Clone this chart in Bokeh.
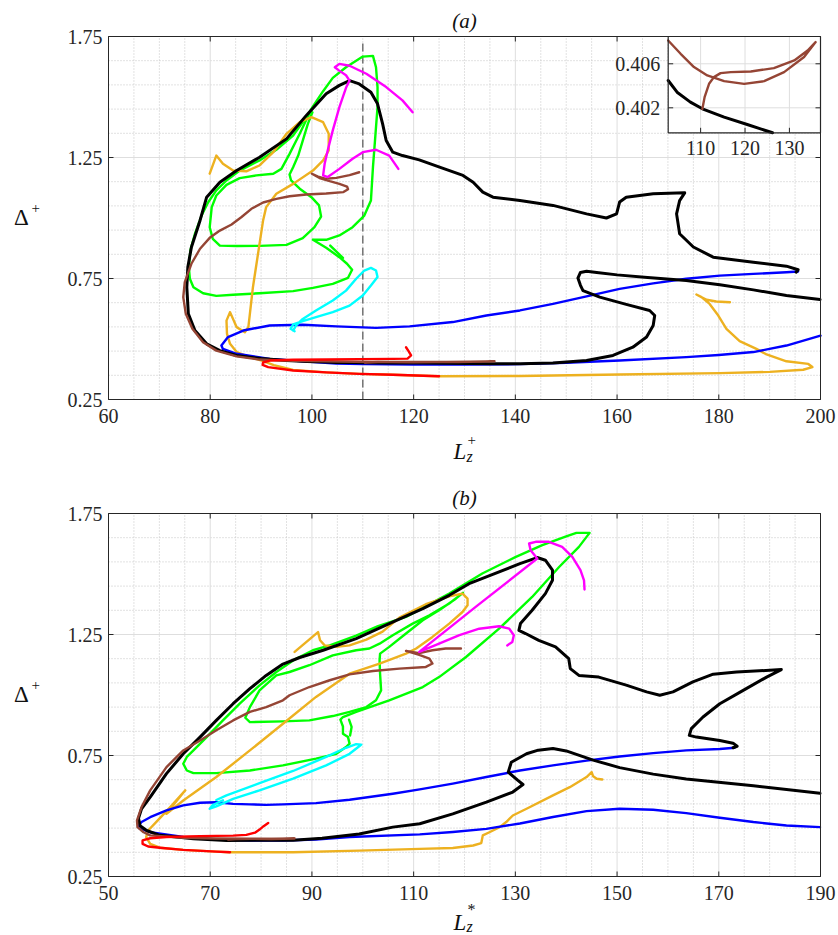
from math import pi
from bokeh.plotting import figure
from bokeh.models import Range1d, Label
from bokeh.layouts import column
from bokeh.embed import file_html
from bokeh.resources import INLINE
from bokeh.core.properties import value

SERIF = "Liberation Serif"
AX = "#262626"
MAJOR = "#dedede"
MINOR = "#c4c4c4"

# ---------------- ticks ----------------
xticks_a = [60, 80, 100, 120, 140, 160, 180, 200]
xminor_a = [65, 70, 75, 85, 90, 95, 105, 110, 115, 125, 130, 135, 145, 150, 155, 165, 170, 175, 185, 190, 195]
xticks_b = [50, 70, 90, 110, 130, 150, 170, 190]
xminor_b = [55, 60, 65, 75, 80, 85, 95, 100, 105, 115, 120, 125, 135, 140, 145, 155, 160, 165, 175, 180, 185]
yticks = [0.25, 0.75, 1.25, 1.75]
ylabels = ["0.25", "0.75", "1.25", "1.75"]
yminor = [0.35, 0.45, 0.55, 0.65, 0.85, 0.95, 1.05, 1.15, 1.35, 1.45, 1.55, 1.65]
xtop_a = [60, 80, 100, 120, 140, 160]
yright_a = [0.25, 0.75, 1.25]

# ---------------- panel (a) data: (L_z^+, Delta^+) ----------------
black_a = [(199.9,0.663),(193.3,0.680),(186.8,0.703),(180.2,0.724),(173.6,0.742),(166.0,0.754),(160.0,0.765),(156.0,0.775),(154.0,0.780),(152.8,0.775),(152.3,0.752),(152.8,0.722),(153.3,0.700),(156.6,0.673),(161.8,0.643),(166.4,0.618),(167.4,0.597),(167.1,0.556),(165.8,0.508),(163.1,0.466),(159.2,0.432),(154.0,0.411),(147.4,0.401),(141.0,0.398),(135.0,0.3975),(126.2,0.3997),(120.5,0.4005),(115.3,0.4012),(110.4,0.4019),(107.7,0.4025),(104.7,0.4034),(102.7,0.4045),(99.0,0.407),(95.0,0.411),(90.0,0.419),(85.2,0.432),(81.9,0.452),(79.3,0.480),(77.0,0.535),(75.7,0.604),(75.4,0.714),(75.6,0.797),(76.3,0.879),(78.0,0.990),(79.3,1.086),(81.9,1.148),(85.2,1.196),(89.7,1.251),(95.0,1.327),(98.9,1.424),(102.8,1.513),(105.4,1.548),(107.4,1.568),(109.3,1.554),(111.6,1.520),(112.9,1.472),(113.9,1.389),(114.6,1.320),(115.9,1.272),(117.8,1.258),(121.1,1.240),(125.1,1.210),(129.7,1.176),(131.7,1.148),(133.6,1.107),(135.6,1.086),(140.9,1.072),(147.4,1.052),(154.0,1.017),(157.9,1.000),(159.9,1.017),(160.5,1.066),(161.8,1.086),(167.1,1.100),(173.3,1.104),(172.3,1.072),(171.7,1.017),(172.3,0.935),(175.0,0.880),(178.9,0.838),(186.8,0.817),(193.3,0.801),(195.6,0.786),(195.2,0.776)]
blue_a = [(200.0,0.514),(193.3,0.473),(186.8,0.446),(180.0,0.434),(173.6,0.425),(160.5,0.411),(150.0,0.402),(140.9,0.396),(130.0,0.394),(120.0,0.394),(110.0,0.396),(104.8,0.399),(98.2,0.408),(91.7,0.418),(85.2,0.439),(82.5,0.459),(82.2,0.473),(83.5,0.508),(86.5,0.535),(91.7,0.556),(98.2,0.559),(104.8,0.552),(112.6,0.546),(119.2,0.552),(127.7,0.570),(134.3,0.597),(140.9,0.618),(147.4,0.645),(154.0,0.676),(160.5,0.707),(167.1,0.730),(173.6,0.749),(180.2,0.762),(186.8,0.769),(193.3,0.776),(195.6,0.779)]
red_a = [(118.5,0.466),(119.0,0.450),(119.5,0.432),(118.8,0.419),(115.9,0.418),(109.3,0.417),(102.8,0.415),(96.3,0.414),(91.7,0.411),(90.4,0.403),(90.3,0.393),(91.4,0.384),(96.3,0.370),(102.8,0.362),(109.3,0.356),(115.9,0.352),(125.0,0.346)]
orange_a = [(79.9,1.183),(81.2,1.258),(82.5,1.224),(84.5,1.196),(87.1,1.193),(89.7,1.217),(92.4,1.272),(95.0,1.348),(97.6,1.396),(99.9,1.417),(102.2,1.396),(103.3,1.348),(103.3,1.279),(102.2,1.238),(100.2,1.196),(96.3,1.141),(93.0,1.100),(91.0,1.045),(90.4,0.990),(89.4,0.852),(88.4,0.714),(87.8,0.604),(87.5,0.549),(86.8,0.528),(85.2,0.549),(83.9,0.611),(83.2,0.576),(83.3,0.521),(83.9,0.480),(85.2,0.446),(87.8,0.425),(90.4,0.409),(92.5,0.392),(96.3,0.372),(102.8,0.362),(109.3,0.356),(115.9,0.352),(125.0,0.346),(140.9,0.347),(160.5,0.353),(180.2,0.359),(190.0,0.364),(196.6,0.373),(198.4,0.384),(197.6,0.397),(193.3,0.408),(189.4,0.436),(187.4,0.459),(184.1,0.491),(181.5,0.542),(179.9,0.597),(178.2,0.645),(176.6,0.673),(175.6,0.684),(177.6,0.662),(179.5,0.655),(182.2,0.652)]
green_a_outer = [(100.2,0.910),(102.8,0.877),(105.4,0.838),(106.9,0.811),(107.9,0.786),(107.1,0.753),(104.1,0.728),(100.2,0.711),(96.3,0.698),(89.7,0.689),(84.5,0.683),(81.2,0.678),(78.6,0.689),(76.7,0.714),(76.0,0.749),(75.8,0.797),(76.1,0.866),(77.0,0.935),(78.3,1.010),(79.6,1.065),(81.2,1.114),(83.2,1.155),(85.8,1.196),(89.7,1.238),(93.0,1.282),(96.3,1.341),(98.9,1.417),(100.2,1.461),(102.2,1.524),(104.1,1.579),(106.7,1.623),(110.0,1.667),(112.0,1.670),(112.6,1.623),(112.9,1.541),(112.9,1.458),(112.5,1.348),(112.0,1.210),(111.6,1.072),(110.3,1.010),(108.0,0.962),(105.4,0.928),(102.8,0.910),(100.2,0.910)]
green_a_inner = [(99.5,1.433),(97.6,1.348),(95.6,1.265),(94.0,1.203),(92.4,1.183),(89.1,1.176),(85.8,1.165),(83.2,1.137),(81.2,1.093),(80.3,1.045),(79.9,0.962),(80.5,0.914),(81.9,0.886),(85.2,0.884),(89.7,0.885),(95.0,0.889),(98.2,0.917),(100.5,0.962),(101.8,1.006),(101.4,1.052),(99.9,1.086),(97.6,1.121),(95.9,1.155),(95.6,1.180),(96.3,1.210),(97.3,1.258),(98.2,1.320),(99.2,1.389),(100.1,1.437)]
green_a_spur = [(103.6,0.886),(106.1,0.835)]
magenta_a = [(117.0,1.203),(115.2,1.258),(112.6,1.282),(110.0,1.272),(108.0,1.245),(105.4,1.203),(103.1,1.169),(102.2,1.176),(102.5,1.224),(103.1,1.279),(104.1,1.362),(105.4,1.458),(106.7,1.538),(107.4,1.568),(106.7,1.590),(105.3,1.610),(104.5,1.623),(105.4,1.637),(107.4,1.629),(110.7,1.596),(114.6,1.541),(117.8,1.486),(119.8,1.437)]
cyan_a = [(96.6,0.532),(95.8,0.542),(96.3,0.560),(98.2,0.574),(100.8,0.590),(104.1,0.611),(107.4,0.638),(110.0,0.680),(111.6,0.721),(112.9,0.756),(112.6,0.783),(111.6,0.794),(110.3,0.783),(108.7,0.749),(106.7,0.700),(104.1,0.659),(100.8,0.618),(98.2,0.583),(96.9,0.556),(96.3,0.535)]
brown_a = [(109.3,1.189),(107.4,1.177),(104.8,1.166),(102.8,1.162),(101.2,1.171),(100.0,1.183),(101.5,1.165),(103.5,1.152),(105.4,1.141),(106.9,1.130),(107.1,1.119),(106.2,1.107),(102.8,1.101),(98.9,1.097),(95.6,1.090),(93.0,1.079),(90.4,1.064),(88.1,1.038),(86.1,1.003),(84.2,0.973),(81.9,0.948),(79.9,0.918),(78.0,0.873),(76.3,0.811),(75.0,0.735),(74.7,0.673),(75.2,0.604),(76.5,0.542),(78.6,0.487),(81.2,0.452),(85.2,0.428),(89.7,0.415),(96.3,0.4095),(102.7,0.40812),(105.5,0.40691),(108.5,0.40570),(111.5,0.40494),(115.3,0.40442),(119.8,0.40418),(124.3,0.40442),(128.8,0.40524),(133.3,0.40661),(135.9,0.40797),(134.1,0.40721),(131.1,0.40630),(126.5,0.40561),(121.3,0.40530),(116.8,0.40524),(114.5,0.40515),(113.0,0.40479),(111.9,0.40418),(110.9,0.40297),(110.4,0.40191)]
dash_x = 110
dash_y = [0.25, 1.722]

# inset of panel (a)
inset_xlim = (102.7, 137.0)
inset_ylim = (0.39973, 0.40848)
inset_xticks = [110, 120, 130]
inset_yticks = [0.402, 0.406]
inset_ylabels = ["0.402", "0.406"]
black_inset = [(102.7,0.40448),(104.7,0.40342),(107.7,0.40252),(110.4,0.40191),(115.3,0.40115),(120.5,0.40048),(126.2,0.39973)]
brown_inset = [(102.7,0.40812),(105.5,0.40691),(108.5,0.40570),(111.5,0.40494),(115.3,0.40442),(119.8,0.40418),(124.3,0.40442),(128.8,0.40524),(133.3,0.40661),(135.9,0.40797),(134.1,0.40721),(131.1,0.40630),(126.5,0.40561),(121.3,0.40530),(116.8,0.40524),(114.5,0.40515),(113.0,0.40479),(111.9,0.40418),(110.9,0.40297),(110.4,0.40191)]

# ---------------- panel (b) data: (L_z^*, Delta^+) ----------------
black_b = [(189.9,0.594),(176.8,0.625),(163.6,0.653),(157.1,0.673),(150.5,0.700),(145.3,0.731),(140.0,0.769),(137.4,0.779),(134.5,0.772),(132.2,0.757),(129.2,0.722),(128.6,0.681),(130.5,0.647),(131.5,0.630),(129.5,0.599),(124.3,0.557),(117.7,0.509),(111.2,0.468),(105.9,0.454),(99.3,0.426),(92.0,0.408),(86.3,0.400),(73.2,0.399),(66.7,0.406),(60.1,0.420),(57.5,0.440),(56.2,0.460),(55.9,0.490),(56.5,0.530),(58.2,0.578),(61.4,0.675),(64.7,0.757),(68.0,0.826),(71.2,0.895),(74.5,0.964),(77.8,1.026),(81.0,1.081),(84.3,1.128),(87.6,1.155),(92.2,1.185),(98.7,1.233),(105.2,1.295),(111.8,1.357),(117.0,1.412),(120.9,1.460),(124.3,1.488),(130.9,1.543),(134.3,1.568),(135.9,1.557),(137.3,1.516),(137.3,1.474),(135.9,1.419),(133.3,1.350),(131.0,1.295),(130.7,1.267),(132.0,1.254),(134.6,1.226),(137.9,1.199),(140.5,1.150),(140.8,1.109),(142.5,1.081),(146.4,1.074),(151.8,1.041),(155.8,1.013),(158.4,0.999),(161.0,1.013),(164.9,1.054),(168.9,1.086),(173.5,1.095),(182.3,1.105),(179.4,1.074),(174.8,1.019),(170.2,0.964),(166.9,0.909),(164.6,0.861),(164.2,0.833),(165.6,0.826),(170.2,0.812),(172.8,0.801),(173.6,0.788),(172.8,0.782)]
blue_b = [(189.9,0.454),(183.3,0.461),(176.8,0.475),(170.2,0.493),(163.6,0.512),(157.1,0.526),(150.5,0.530),(144.0,0.520),(137.4,0.496),(130.9,0.469),(124.3,0.447),(117.7,0.434),(111.2,0.424),(97.4,0.413),(90.8,0.403),(84.3,0.399),(77.8,0.399),(71.2,0.403),(64.7,0.413),(58.2,0.433),(56.0,0.450),(55.9,0.461),(56.5,0.475),(58.2,0.495),(61.4,0.523),(64.7,0.544),(68.0,0.555),(71.2,0.557),(74.5,0.550),(77.8,0.548),(81.0,0.546),(84.3,0.548),(90.8,0.553),(97.4,0.567),(105.9,0.592),(111.2,0.610),(117.7,0.634),(124.3,0.661),(130.9,0.688),(137.4,0.709),(144.0,0.729),(150.5,0.746),(157.1,0.760),(163.6,0.771),(170.2,0.777),(173.1,0.782)]
red_b = [(81.4,0.471),(80.5,0.458),(79.7,0.444),(78.8,0.431),(77.1,0.422),(74.5,0.419),(68.0,0.417),(61.4,0.413),(58.2,0.408),(56.7,0.399),(56.7,0.385),(57.8,0.374),(60.1,0.369),(64.7,0.360),(71.2,0.353),(73.9,0.350)]
orange_b = [(86.6,1.178),(91.2,1.260),(91.6,1.226),(92.5,1.205),(94.8,1.199),(97.4,1.205),(100.7,1.229),(103.9,1.262),(107.2,1.320),(112.4,1.375),(117.0,1.408),(119.6,1.419),(120.6,1.398),(120.6,1.371),(119.6,1.343),(117.0,1.295),(113.7,1.240),(110.5,1.192),(108.5,1.171),(103.3,1.130),(97.4,1.088),(90.8,0.992),(84.3,0.881),(77.8,0.771),(71.2,0.661),(64.7,0.564),(61.4,0.509),(63.5,0.565),(65.1,0.606),(62.5,0.545),(59.5,0.478),(57.8,0.440),(57.4,0.413),(58.2,0.385),(60.1,0.369),(64.7,0.360),(71.2,0.353),(73.9,0.350),(86.3,0.350),(99.3,0.357),(111.2,0.364),(117.7,0.368),(121.7,0.378),(123.3,0.388),(123.6,0.420),(124.9,0.433),(126.9,0.454),(128.2,0.475),(129.5,0.502),(132.2,0.530),(137.4,0.585),(140.7,0.619),(144.0,0.661),(145.0,0.681),(145.3,0.664),(146.0,0.654),(147.1,0.651)]
green_b_outer = [(97.4,0.799),(96.7,0.785),(94.8,0.757),(90.8,0.737),(84.3,0.709),(77.8,0.688),(71.2,0.677),(66.7,0.677),(65.4,0.688),(64.7,0.716),(65.4,0.744),(66.7,0.771),(69.3,0.826),(72.5,0.895),(75.8,0.964),(79.7,1.040),(83.0,1.095),(86.3,1.143),(90.2,1.185),(93.5,1.205),(98.7,1.245),(103.0,1.285),(108.5,1.323),(117.0,1.419),(123.5,1.502),(130.1,1.571),(135.3,1.619),(140.0,1.655),(142.0,1.670),(144.6,1.670),(142.5,1.612),(138.6,1.529),(133.3,1.405),(126.8,1.274),(120.3,1.157),(115.0,1.074),(111.8,1.033),(105.2,0.978),(98.7,0.930),(96.1,0.909),(95.6,0.898),(96.1,0.870),(96.1,0.840),(97.1,0.826),(97.4,0.799)]
green_b_inner = [(119.7,1.422),(117.0,1.378),(113.1,1.329),(109.8,1.295),(105.9,1.247),(103.3,1.212),(101.3,1.192),(98.7,1.185),(94.1,1.164),(89.5,1.123),(85.6,1.095),(83.0,1.081),(79.7,1.019),(77.8,0.950),(76.9,0.906),(77.8,0.888),(84.3,0.891),(89.5,0.895),(94.1,0.913),(97.4,0.930),(100.7,0.950),(102.6,0.978),(103.6,1.019),(103.4,1.088),(103.3,1.143),(103.4,1.171),(105.2,1.199),(108.5,1.254),(111.8,1.309),(115.0,1.350),(118.3,1.398),(119.7,1.422)]
green_b_spur = [(97.3,0.898),(97.8,0.868),(97.5,0.833)]
magenta_b = [(128.4,1.205),(129.4,1.219),(129.7,1.247),(128.8,1.274),(126.8,1.284),(122.9,1.274),(119.0,1.247),(115.0,1.212),(111.1,1.178),(122.2,1.364),(134.3,1.564),(133.0,1.598),(132.7,1.626),(134.0,1.633),(136.6,1.633),(139.2,1.612),(141.2,1.571),(142.8,1.516),(143.5,1.474),(143.6,1.436)]
cyan_b = [(72.5,0.565),(70.5,0.545),(69.9,0.530),(71.2,0.540),(74.5,0.571),(79.7,0.606),(86.3,0.654),(92.8,0.709),(97.4,0.757),(99.3,0.788),(99.7,0.795),(98.7,0.797),(96.7,0.782),(92.8,0.744),(86.3,0.686),(79.7,0.636),(73.2,0.585),(71.2,0.566)]
brown_b = [(119.3,1.192),(116.3,1.192),(113.7,1.185),(111.1,1.173),(108.5,1.182),(111.1,1.166),(113.1,1.150),(113.7,1.130),(112.4,1.116),(107.2,1.109),(102.0,1.099),(97.4,1.085),(93.5,1.061),(89.5,1.033),(85.6,0.999),(84.3,0.978),(81.0,0.950),(77.8,0.930),(74.5,0.895),(71.2,0.854),(68.0,0.812),(64.7,0.771),(61.4,0.702),(58.2,0.606),(56.5,0.537),(55.6,0.482),(55.7,0.454),(56.9,0.433),(58.2,0.420),(64.7,0.410),(71.2,0.407),(77.8,0.406),(82.0,0.405),(86.6,0.407),(83.0,0.4065),(78.0,0.4055),(75.0,0.405),(73.5,0.403)]

# ---------------- colours ----------------
C_BLACK = "#000000"
C_BLUE = "#0000ff"
C_RED = "#ff0000"
C_GREEN = "#00ff00"
C_MAGENTA = "#ff00ff"
C_CYAN = "#00ffff"
C_ORANGE = "#edb120"
C_BROWN = "#954535"

# ---------------- layout (canvas pixels, origin bottom-left) ----------------
CANVAS_W = 838
H_A, H_B = 468, 467
BOX_X = (108, 820)
BOX_Y_A = (69, 432)
BOX_Y_B = (59, 422)
INSET_X = (667.7, 820)
INSET_Y = (335.7, 432)


def xs(pts):
    return [a for a, _ in pts]


def ys(pts):
    return [b for _, b in pts]


def draw(api, pts, color, width=2.4):
    api.line(xs(pts), ys(pts), line_color=color, line_width=width,
             line_join="round", line_cap="round")


def canvas(h):
    return figure(frame_width=CANVAS_W, frame_height=h,
                  x_range=Range1d(0, CANVAS_W), y_range=Range1d(0, h),
                  x_axis_type=None, y_axis_type=None,
                  output_backend="svg", toolbar_location=None,
                  min_border=0, outline_line_color=None,
                  background_fill_color="white", border_fill_color="white")


def axes_box(p, xlo, xhi, box_y, xt, xm):
    sub = p.subplot(x_source=Range1d(xlo, xhi), y_source=Range1d(0.25, 1.75),
                    x_target=Range1d(*BOX_X), y_target=Range1d(*box_y))
    sub.segment(x0=xm, y0=[0.25] * len(xm), x1=xm, y1=[1.75] * len(xm),
                line_color=MINOR, line_dash="1 2", line_width=1)
    sub.segment(x0=[xlo] * len(yminor), y0=yminor, x1=[xhi] * len(yminor), y1=yminor,
                line_color=MINOR, line_dash="1 2", line_width=1)
    sub.segment(x0=xt, y0=[0.25] * len(xt), x1=xt, y1=[1.75] * len(xt),
                line_color=MAJOR, line_width=1)
    sub.segment(x0=[xlo] * len(yticks), y0=yticks, x1=[xhi] * len(yticks), y1=yticks,
                line_color=MAJOR, line_width=1)
    return sub


def axes_frame(sub, xlo, xhi, xt, xt_top, yt_right):
    sub.quad(left=[xlo], right=[xhi], bottom=[0.25], top=[1.75],
             fill_color=None, line_color=AX, line_width=1)
    sub.ray(x=xt, y=[0.25] * len(xt), length=5, length_units="screen", angle=pi / 2, line_color=AX)
    sub.ray(x=xt_top, y=[1.75] * len(xt_top), length=5, length_units="screen", angle=-pi / 2, line_color=AX)
    sub.ray(x=[xlo] * len(yticks), y=yticks, length=5, length_units="screen", angle=0, line_color=AX)
    sub.ray(x=[xhi] * len(yt_right), y=yt_right, length=5, length_units="screen", angle=pi, line_color=AX)
    sub.text(x=xt, y=[0.25] * len(xt), text=[str(t) for t in xt], y_offset=9,
             text_align="center", text_baseline="top", text_font=value(SERIF),
             text_font_size="20px", text_color=AX)
    sub.text(x=[xlo] * len(yticks), y=yticks, text=ylabels, x_offset=-6,
             text_align="right", text_baseline="middle", text_font=value(SERIF),
             text_font_size="20px", text_color=AX)


def curves(api, black, blue, red, orange, greens, magenta, cyan, brown):
    for g in greens:
        draw(api, g, C_GREEN)
    draw(api, orange, C_ORANGE)
    draw(api, blue, C_BLUE)
    draw(api, black, C_BLACK, 3.0)
    draw(api, cyan, C_CYAN)
    draw(api, brown, C_BROWN)
    draw(api, red, C_RED)
    draw(api, magenta, C_MAGENTA)


def lab(p, x, y, text, size="22px", style="normal", align="left", baseline="alphabetic"):
    p.add_layout(Label(x=x, y=y, text=text, text_font=SERIF, text_font_size=size,
                       text_font_style=style, text_align=align, text_baseline=baseline,
                       text_color="#111111"))


# ---------------- panel (a) ----------------
pa = canvas(H_A)
sa = axes_box(pa, 60, 200, BOX_Y_A, xticks_a, xminor_a)
sa.line([dash_x, dash_x], dash_y, line_color="#737373", line_width=1.5, line_dash="8 4")
curves(sa, black_a, blue_a, red_a, orange_a, [green_a_outer, green_a_inner, green_a_spur],
       magenta_a, cyan_a, brown_a)

ins = pa.subplot(x_source=Range1d(*inset_xlim), y_source=Range1d(*inset_ylim),
                 x_target=Range1d(*INSET_X), y_target=Range1d(*INSET_Y))
ix0, ix1 = inset_xlim
iy0, iy1 = inset_ylim
ins.quad(left=[ix0], right=[ix1], bottom=[iy0], top=[iy1], fill_color="white", line_color=None)
ins.segment(x0=inset_xticks, y0=[iy0] * 3, x1=inset_xticks, y1=[iy1] * 3, line_color=MAJOR, line_width=1)
ins.segment(x0=[ix0] * 2, y0=inset_yticks, x1=[ix1] * 2, y1=inset_yticks, line_color=MAJOR, line_width=1)
draw(ins, black_inset, C_BLACK, 3.0)
draw(ins, brown_inset, C_BROWN, 2.4)
ins.quad(left=[ix0], right=[ix1], bottom=[iy0], top=[iy1], fill_color=None, line_color=AX, line_width=1.2)
ins.ray(x=[ix0] * 2, y=inset_yticks, length=5, length_units="screen", angle=0, line_color=AX)
ins.ray(x=[ix1] * 2, y=inset_yticks, length=5, length_units="screen", angle=pi, line_color=AX)
ins.ray(x=inset_xticks, y=[iy0] * 3, length=5, length_units="screen", angle=pi / 2, line_color=AX)
ins.text(x=[ix0] * 2, y=inset_yticks, text=inset_ylabels, x_offset=-8,
         text_align="right", text_baseline="middle", text_font=value(SERIF),
         text_font_size="20px", text_color=AX)
ins.text(x=inset_xticks, y=[iy0] * 3, text=[str(t) for t in inset_xticks], y_offset=8,
         text_align="center", text_baseline="top", text_font=value(SERIF),
         text_font_size="20px", text_color=AX)

axes_frame(sa, 60, 200, xticks_a, xtop_a, yright_a)

lab(pa, 464, 448, "(a)", size="21px", style="italic", align="center", baseline="middle")
lab(pa, 21, 251, "\u0394", size="23px", align="center", baseline="middle")
lab(pa, 31, 261, "+", size="15px", align="left", baseline="middle")
lab(pa, 453, 17, "L", size="23px", style="italic")
lab(pa, 466, 12, "z", size="16px", style="italic")
lab(pa, 467, 29, "+", size="15px", align="left", baseline="middle")

# ---------------- panel (b) ----------------
pb = canvas(H_B)
sb = axes_box(pb, 50, 190, BOX_Y_B, xticks_b, xminor_b)
curves(sb, black_b, blue_b, red_b, orange_b, [green_b_outer, green_b_inner, green_b_spur],
       magenta_b, cyan_b, brown_b)
axes_frame(sb, 50, 190, xticks_b, xticks_b, yticks)

lab(pb, 464, 438, "(b)", size="21px", style="italic", align="center", baseline="middle")
lab(pb, 21, 241, "\u0394", size="23px", align="center", baseline="middle")
lab(pb, 31, 251, "+", size="15px", align="left", baseline="middle")
lab(pb, 453, 13, "L", size="23px", style="italic")
lab(pb, 466, 9, "z", size="16px", style="italic")
lab(pb, 467, 26, "*", size="16px", align="left", baseline="middle")

layout = column(pa, pb)
open("out.html", "w").write(file_html(layout, INLINE))
